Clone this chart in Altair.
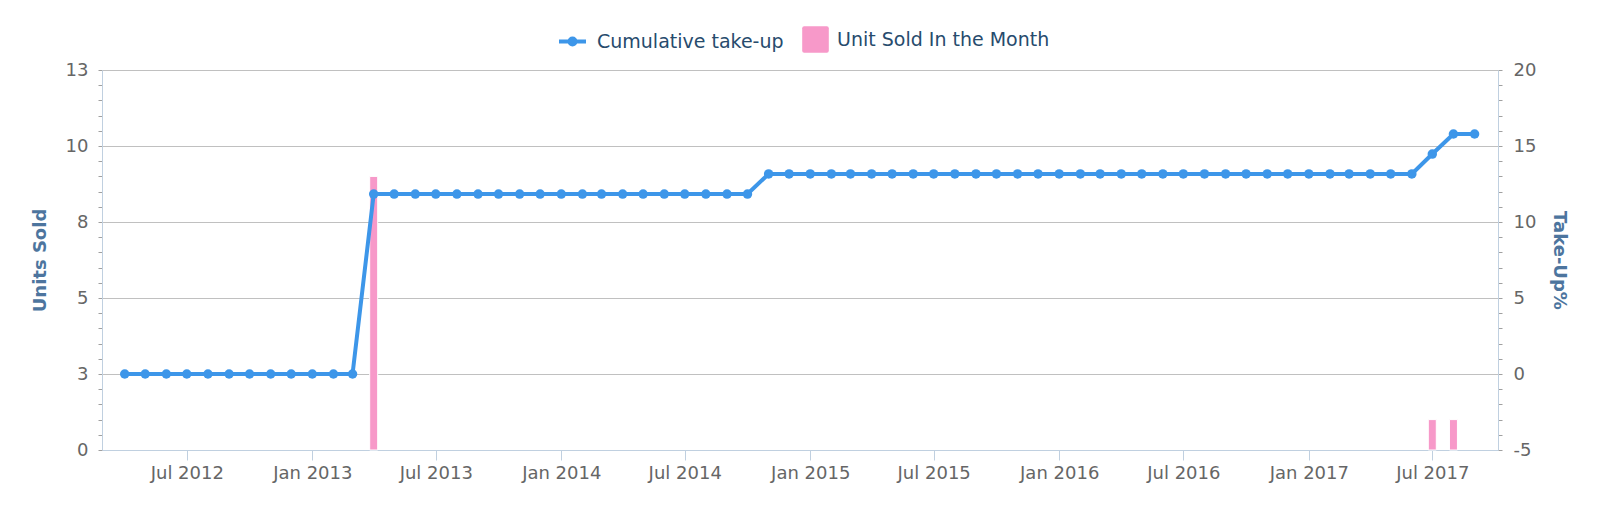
import pandas as pd
import altair as alt

BLUE = "#3d96e9"
PINK = "#f799c9"
FONT = "DejaVu Sans"

months = pd.date_range("2012-04-01", "2017-09-01", freq="MS").strftime("%Y-%m-%d").tolist()
take_up = [
    0, 0, 0, 0, 0, 0, 0, 0, 0,                                                  # 2012 Apr-Dec
    0, 0, 0, 11.84, 11.84, 11.84, 11.84, 11.84, 11.84, 11.84, 11.84, 11.84,     # 2013
    11.84, 11.84, 11.84, 11.84, 11.84, 11.84, 11.84, 11.84, 11.84, 11.84, 13.16, 13.16,  # 2014
    13.16, 13.16, 13.16, 13.16, 13.16, 13.16, 13.16, 13.16, 13.16, 13.16, 13.16, 13.16,  # 2015
    13.16, 13.16, 13.16, 13.16, 13.16, 13.16, 13.16, 13.16, 13.16, 13.16, 13.16, 13.16,  # 2016
    13.16, 13.16, 13.16, 13.16, 13.16, 13.16, 14.47, 15.79, 15.79,              # 2017 Jan-Sep
]
sold_months = ["2013-04-01", "2017-07-01", "2017-08-01"]
sold_units = [9, 1, 1]

line_df = pd.DataFrame({"month": months, "takeup": take_up, "series": "Cumulative take-up"})
bar_df = pd.DataFrame({"month": sold_months, "units": sold_units, "series": "Unit Sold In the Month"})

x_ticks = [alt.DateTime(year=y, month=m, date=1, utc=True)
           for y in range(2012, 2018) for m in (1, 7)][1:]
x_enc = alt.X(
    "month:T",
    title=None,
    scale=alt.Scale(type="utc", domain=[
        alt.DateTime(year=2012, month=3, date=6, utc=True),
        alt.DateTime(year=2017, month=9, date=28, utc=True),
    ]),
    axis=alt.Axis(values=x_ticks, labelExpr="utcFormat(datum.value, '%b %Y')", grid=False,
                  domainColor="#C0D0E0", tickColor="#C0D0E0", tickSize=10,
                  labelPadding=4, tickCount=100),
)

left_vals = [0.5 * k for k in range(26)]
right_vals = list(range(-5, 21))

bars = alt.Chart(bar_df).mark_bar(size=8, stroke="white", strokeWidth=1).encode(
    x=x_enc,
    y=alt.Y("units:Q", title="Units Sold",
            scale=alt.Scale(domain=[0, 12.5], nice=False, zero=False),
            axis=alt.Axis(values=left_vals, tickCount=100,
                          labelExpr="datum.value % 2.5 === 0 ? format(datum.value, '.0f') : ''",
                          grid=True, gridColor="#C0C0C0",
                          gridOpacity={"condition": {"test": "datum.value % 2.5 === 0", "value": 1}, "value": 0},
                          domainColor="#C0D0E0", tickColor="#A0A0A0", tickSize=4, labelPadding=10,
                          titleX=-62, titleY=190, titleAngle=270,
                          titleAlign="center", titleBaseline="middle")),
    color=alt.Color("series:N", scale=alt.Scale(range=[PINK]),
                    legend=alt.Legend(title=None, orient="none", legendX=700, legendY=-44,
                                      padding=0, labelOffset=8, labelLimit=0,
                                      symbolType="M-0.85,-1H0.85Q1,-1 1,-0.85V0.85Q1,1 0.85,1H-0.85Q-1,1 -1,0.85V-0.85Q-1,-1 -0.85,-1Z",
                                      symbolSize=708, symbolStrokeWidth=0, symbolFillColor=PINK)),
)

y_right = alt.Y("takeup:Q", title="Take-Up%",
                scale=alt.Scale(domain=[-5, 20], nice=False, zero=False),
                axis=alt.Axis(orient="right", values=right_vals, tickCount=100,
                              labelExpr="datum.value % 5 === 0 ? datum.value : ''",
                              grid=False, domainColor="#C0D0E0", tickColor="#A0A0A0",
                              tickSize=4, labelPadding=11,
                              titleX=60, titleY=190, titleAngle=90,
                              titleAlign="center", titleBaseline="middle"))

line = alt.Chart(line_df).mark_line(strokeWidth=4).encode(
    x=x_enc,
    y=y_right,
    color=alt.Color("series:N", scale=alt.Scale(range=[BLUE]),
                    legend=alt.Legend(title=None, orient="none", legendX=455, legendY=-44,
                                      padding=0, labelOffset=9, labelLimit=0,
                                      symbolType="M-1,0H1M-0.22,0A0.22,0.22 0 1,0 0.22,0A0.22,0.22 0 1,0 -0.22,0Z",
                                      symbolSize=729, symbolStrokeWidth=4,
                                      symbolStrokeColor=BLUE, symbolFillColor=BLUE)),
)
points = alt.Chart(line_df).mark_circle(size=90, opacity=1, color=BLUE).encode(
    x=x_enc,
    y=y_right,
)

chart = alt.layer(bars, alt.layer(line, points)).resolve_scale(
    y="independent", color="independent"
).properties(
    width=1396, height=380,
    autosize=alt.AutoSizeParams(type="none"),
    padding={"left": 94, "top": 62, "right": 94, "bottom": 55},
).configure_view(
    stroke=None
).configure_axis(
    labelFont=FONT, labelFontSize=18, labelColor="#666666",
    titleFont=FONT, titleFontSize=18, titleFontWeight="bold", titleColor="#4d759e",
).configure_legend(
    labelFont=FONT, labelFontSize=19, labelColor="#274b6d",
)

chart.save("out.html", embed_options={"renderer": "svg", "actions": False})
